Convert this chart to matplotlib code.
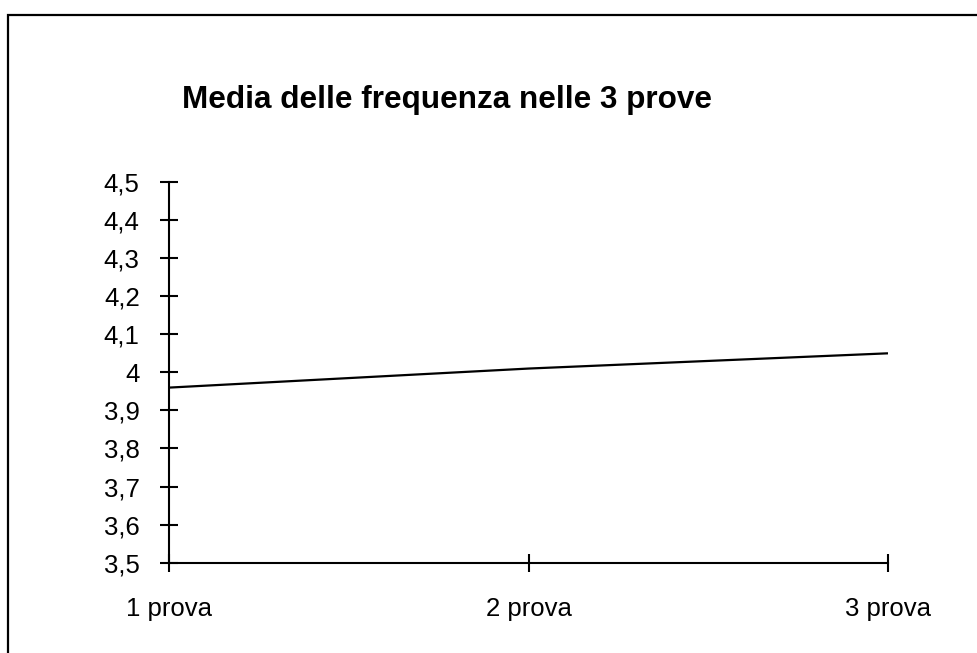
import matplotlib
matplotlib.use("Agg")
import matplotlib.pyplot as plt
from matplotlib.patches import Rectangle

# Average frequency across the three trials
categories = ["1 prova", "2 prova", "3 prova"]
values = [3.96, 4.01, 4.05]
y_ticks = [3.5, 3.6, 3.7, 3.8, 3.9, 4.0, 4.1, 4.2, 4.3, 4.4, 4.5]
y_tick_labels = ["3,5", "3,6", "3,7", "3,8", "3,9", "4", "4,1", "4,2", "4,3", "4,4", "4,5"]
title = "Media delle frequenza nelle 3 prove"

plt.rcParams["font.family"] = ["Liberation Sans", "DejaVu Sans"]

W, H = 978, 653
fig = plt.figure(figsize=(W / 100, H / 100), dpi=100)
fig.patch.set_facecolor("white")

# Frame around the chart area (continues past the right and bottom edges)
fig.add_artist(Rectangle((8 / W, -0.5), 2.0, (H - 15) / H + 0.5,
                         transform=fig.transFigure, fill=False,
                         edgecolor="black", linewidth=1.6, clip_on=False))

left, right = 169.5 / W, 888 / W
bottom, top = (H - 562.7) / H, (H - 182) / H
ax = fig.add_axes([left, bottom, right - left, top - bottom])

x = list(range(len(categories)))
ax.plot(x, values, color="black", linewidth=1.6, solid_capstyle="butt")

ax.set_xlim(0, len(categories) - 1)
ax.set_ylim(y_ticks[0], y_ticks[-1])
ax.set_xticks(x)
ax.set_xticklabels(categories)
ax.set_yticks(y_ticks)
ax.set_yticklabels(y_tick_labels)

for side in ("top", "right"):
    ax.spines[side].set_visible(False)
for side in ("left", "bottom"):
    ax.spines[side].set_linewidth(1.5)
    ax.spines[side].set_color("black")

ax.tick_params(axis="both", direction="inout", length=13, width=1.5,
               colors="black", labelsize=18.5)
ax.tick_params(axis="y", pad=15)
ax.tick_params(axis="x", pad=18)

fig.text(447 / W, 1 - 108 / H, title, ha="center", va="baseline",
         fontsize=22.7, fontweight="bold")

fig.savefig("out.png", dpi=100, facecolor="white")
